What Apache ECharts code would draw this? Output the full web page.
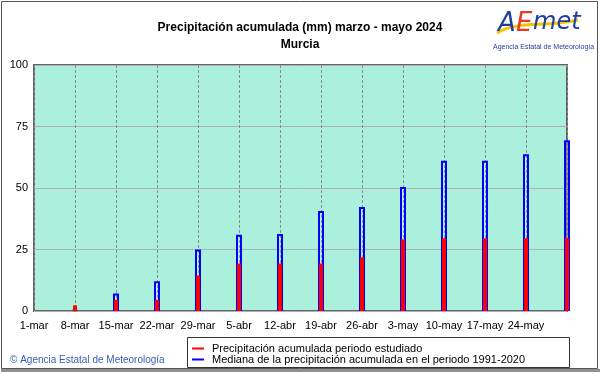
<!DOCTYPE html>
<html>
<head>
<meta charset="utf-8">
<script src="https://cdn.jsdelivr.net/npm/echarts@6/dist/echarts.min.js"></script>
<style>
html,body{margin:0;padding:0;background:#fff;}
#c{width:601px;height:374px;}
</style>
</head>
<body>
<div id="c"></div>
<script>
var categories = ['1-mar','8-mar','15-mar','22-mar','29-mar','5-abr','12-abr','19-abr','26-abr','3-may','10-may','17-may','24-may','31-may'];
var hiddenLabels = ['31-may'];
var observed = [null, 2.3, 4.6, 4.6, 14.4, 19.3, 19.3, 19.3, 21.8, 29.1, 29.6, 29.6, 29.6, 29.6];
var median = [null, 0.6, 7.1, 12.1, 25.0, 31.0, 31.3, 40.6, 42.3, 50.4, 61.1, 61.1, 63.7, 69.4];
var yTicks = [0, 25, 50, 75, 100];
var titleText = 'Precipitación acumulada (mm) marzo - mayo 2024';
var subtitleText = 'Murcia';
var nameObserved = 'Precipitación acumulada periodo estudiado';
var nameMedian = 'Mediana de la precipitación acumulada en el periodo 1991-2020';

var FONT = '"Liberation Sans", Arial, sans-serif';
var chart = echarts.init(document.getElementById('c'), null, {renderer:'canvas'});

var xAxisBase = {
  type:'category', data: categories, boundaryGap:false,
  axisLine:{show:false}, axisTick:{show:false}
};

chart.setOption({
  animation:false,
  backgroundColor:'#ffffff',
  title:[
    {text:titleText, left:295, top:17, textAlign:'center',
     textStyle:{fontFamily:FONT, fontSize:12, fontWeight:'bold', color:'#000'}},
    {text:subtitleText, left:295, top:34, textAlign:'center',
     textStyle:{fontFamily:FONT, fontSize:12, fontWeight:'bold', color:'#000'}}
  ],
  grid:{left:34, right:34, top:65, height:246, show:true,
        backgroundColor:'#aaf0dc', borderColor:'#646464', borderWidth:2},
  xAxis:[
    Object.assign({}, xAxisBase, {
      axisLabel:{interval:0, margin:9, fontFamily:FONT, fontSize:11, color:'#000',
        formatter:function(v){ return hiddenLabels.indexOf(v) >= 0 ? '' : v; }},
      splitLine:{show:true, interval:0, lineStyle:{color:'#8c8c8c', type:[3,2], width:1}}
    }),
    Object.assign({}, xAxisBase, {show:false})
  ],
  yAxis:{type:'value', min:yTicks[0], max:yTicks[yTicks.length-1], interval:25,
    axisLine:{show:false}, axisTick:{show:false},
    axisLabel:{margin:6, fontFamily:FONT, fontSize:11, color:'#000'},
    splitLine:{show:true, lineStyle:{color:'#b0b0b0', width:1}}},
  legend:{
    orient:'vertical', left:192, top:343, itemGap:0, padding:0,
    itemWidth:12, itemHeight:2, icon:'rect',
    textStyle:{fontFamily:FONT, fontSize:11, color:'#000', lineHeight:11, padding:[0,0,0,3]},
    data:[
      {name:nameObserved, itemStyle:{color:'#ff0000', borderWidth:0}},
      {name:nameMedian, itemStyle:{color:'#0000ff', borderWidth:0}}
    ],
    selectedMode:false
  },
  series:[
    {name:nameMedian, type:'bar', xAxisIndex:1, data:median, barWidth:6,
     itemStyle:{color:'rgba(255,255,255,0.15)', borderColor:'#0000ff', borderWidth:2}, z:3},
    {name:nameObserved, type:'bar', xAxisIndex:0, data:observed, barWidth:4,
     itemStyle:{color:'#ff0000'}, z:4}
  ],
  graphic:[
    {type:'rect', shape:{x:1.5, y:1.5, width:596, height:367}, style:{fill:null, stroke:'#555', lineWidth:1}, z:-1},
    {type:'line', shape:{x1:1, y1:370.5, x2:600, y2:370.5}, style:{stroke:'#909090', lineWidth:3}},
    {type:'rect', shape:{x:187.5, y:337.5, width:382, height:30}, style:{fill:null, stroke:'#333', lineWidth:1}},
    {type:'text', left:10, top:355, style:{text:'© Agencia Estatal de Meteorología', fontFamily:FONT, fontSize:10, fill:'#3a5cb8'}},
    {type:'bezierCurve', shape:{x1:497, y1:33, x2:578, y2:20, cpx1:518, cpy1:20, cpx2:542, cpy2:28}, style:{stroke:'#f5c400', lineWidth:3, fill:null}},
    {type:'text', left:498, top:11, style:{text:'A', fontFamily:'"DejaVu Sans", sans-serif', fontStyle:'italic', fontSize:26, fill:'#1f3e9e'}},
    {type:'text', left:516, top:11, style:{text:'E', fontFamily:'"DejaVu Sans", sans-serif', fontStyle:'italic', fontSize:26, fill:'#e8382a'}},
    {type:'text', left:533, top:11, style:{text:'met', fontFamily:'"DejaVu Sans", sans-serif', fontStyle:'italic', fontSize:24, fill:'#1f3e9e'}},
    {type:'text', left:493, top:44, style:{text:'Agencia Estatal de Meteorología', fontFamily:FONT, fontSize:7, fill:'#1f3e9e'}}
  ]
});
</script>
</body>
</html>
